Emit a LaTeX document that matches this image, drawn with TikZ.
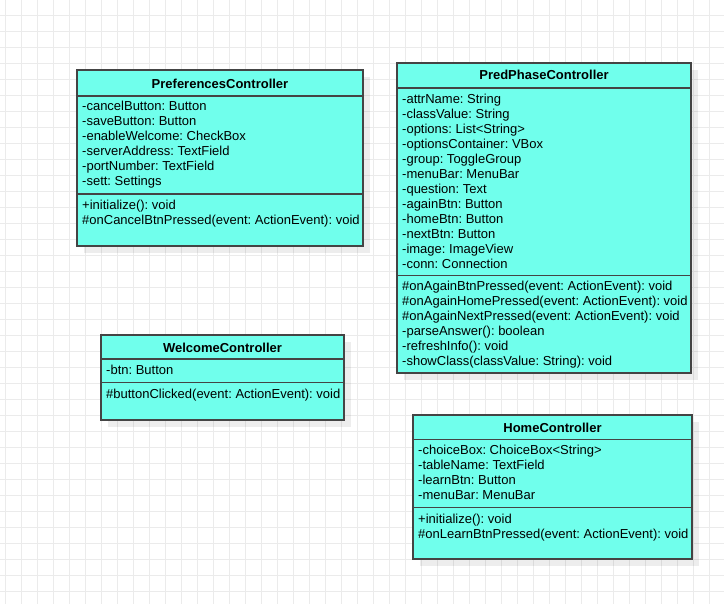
\documentclass[tikz,border=0pt]{standalone}
\usepackage{fontspec}
\setmainfont{Liberation Sans}
\definecolor{boxfill}{HTML}{70FFEC}
\definecolor{boxline}{HTML}{444444}
\definecolor{gridline}{HTML}{EBEBEB}
\frenchspacing
\begin{document}
\begin{tikzpicture}[x=1pt,y=-1pt,
  compartment/.style={draw=boxline, fill=boxfill, line width=1.5pt, inner sep=0pt, outer sep=0pt, anchor=north west},
  shadowbox/.style={fill=black, fill opacity=0.07, draw=none, inner sep=0pt, outer sep=0pt, anchor=north west},
  classtitle/.style={font=\fontsize{13}{15}\selectfont\bfseries\frenchspacing, inner sep=0pt, anchor=base},
  member/.style={font=\fontsize{13}{15}\selectfont\frenchspacing, inner sep=0pt, anchor=base west}]
\useasboundingbox (0,0) rectangle (724,604);
\fill[white] (0,0) rectangle (724,604);
% background grid
\foreach \gx in {5,21,...,724} \draw[gridline, line width=1pt] (\gx,0) -- (\gx,604);
\foreach \gy in {15.7,31.7,...,604} \draw[gridline, line width=1pt] (0,\gy) -- (724,\gy);

% shadows
\node[shadowbox, minimum width=286pt, minimum height=176pt] (prefshadow) at (84,77) {};
\node[shadowbox, minimum width=294pt, minimum height=310pt] (predshadow) at (404,70) {};
\node[shadowbox, minimum width=243pt, minimum height=85pt] (welcshadow) at (108,342) {};
\node[shadowbox, minimum width=279pt, minimum height=144pt] (homeshadow) at (420,422) {};

% PreferencesController
\node[compartment, minimum width=286pt, minimum height=26pt] (prefhead) at (77,70) {};
\node[compartment, minimum width=286pt, minimum height=98pt] (prefattr) at (77,96) {};
\node[compartment, minimum width=286pt, minimum height=52pt] (prefmeth) at (77,194) {};
\node[classtitle] (preftitle) at (220,88.7) {PreferencesController};
\foreach \t [count=\i from 0] in {-cancelButton: Button, -saveButton: Button, -enableWelcome: CheckBox, -serverAddress: TextField, -portNumber: TextField, -sett: Settings}
  \node[member] (prefa\i) at (82,111+15*\i) {\t};
\foreach \t [count=\i from 0] in {+initialize(): void, \#onCancelBtnPressed(event: ActionEvent): void}
  \node[member] (prefm\i) at (82,209.3+15*\i) {\t};

% PredPhaseController
\node[compartment, minimum width=294pt, minimum height=25pt] (predhead) at (397,63) {};
\node[compartment, minimum width=294pt, minimum height=187.7pt] (predattr) at (397,88) {};
\node[compartment, minimum width=294pt, minimum height=97.3pt] (predmeth) at (397,275.7) {};
\node[classtitle] (predtitle) at (544,80) {PredPhaseController};
\foreach \t [count=\i from 0] in {-attrName: String, -classValue: String, -options: List<String>, -optionsContainer: VBox, -group: ToggleGroup, -menuBar: MenuBar, -question: Text, -againBtn: Button, -homeBtn: Button, -nextBtn: Button, -image: ImageView, -conn: Connection}
  \node[member] (preda\i) at (402,103.3+15*\i) {\t};
\foreach \t [count=\i from 0] in {\#onAgainBtnPressed(event: ActionEvent): void, \#onAgainHomePressed(event: ActionEvent): void, \#onAgainNextPressed(event: ActionEvent): void, -parseAnswer(): boolean, -refreshInfo(): void, -showClass(classValue: String): void}
  \node[member] (predm\i) at (402,291+15*\i) {\t};

% WelcomeController
\node[compartment, minimum width=243pt, minimum height=24pt] (welchead) at (101,335) {};
\node[compartment, minimum width=243pt, minimum height=23.7pt] (welcattr) at (101,359) {};
\node[compartment, minimum width=243pt, minimum height=37.3pt] (welcmeth) at (101,382.7) {};
\node[classtitle] (welctitle) at (222.5,352.6) {WelcomeController};
\node[member] (welca0) at (106,375) {-btn: Button};
\node[member] (welcm0) at (106,398.3) {\#buttonClicked(event: ActionEvent): void};

% HomeController
\node[compartment, minimum width=279pt, minimum height=24.7pt] (homehead) at (413,415) {};
\node[compartment, minimum width=279pt, minimum height=68pt] (homeattr) at (413,439.7) {};
\node[compartment, minimum width=279pt, minimum height=51.3pt] (homemeth) at (413,507.7) {};
\node[classtitle] (hometitle) at (552.5,432.6) {HomeController};
\foreach \t [count=\i from 0] in {-choiceBox: ChoiceBox<String>, -tableName: TextField, -learnBtn: Button, -menuBar: MenuBar}
  \node[member] (homea\i) at (418,455+15*\i) {\t};
\foreach \t [count=\i from 0] in {+initialize(): void, \#onLearnBtnPressed(event: ActionEvent): void}
  \node[member] (homem\i) at (418,523+15*\i) {\t};
\end{tikzpicture}
\end{document}
